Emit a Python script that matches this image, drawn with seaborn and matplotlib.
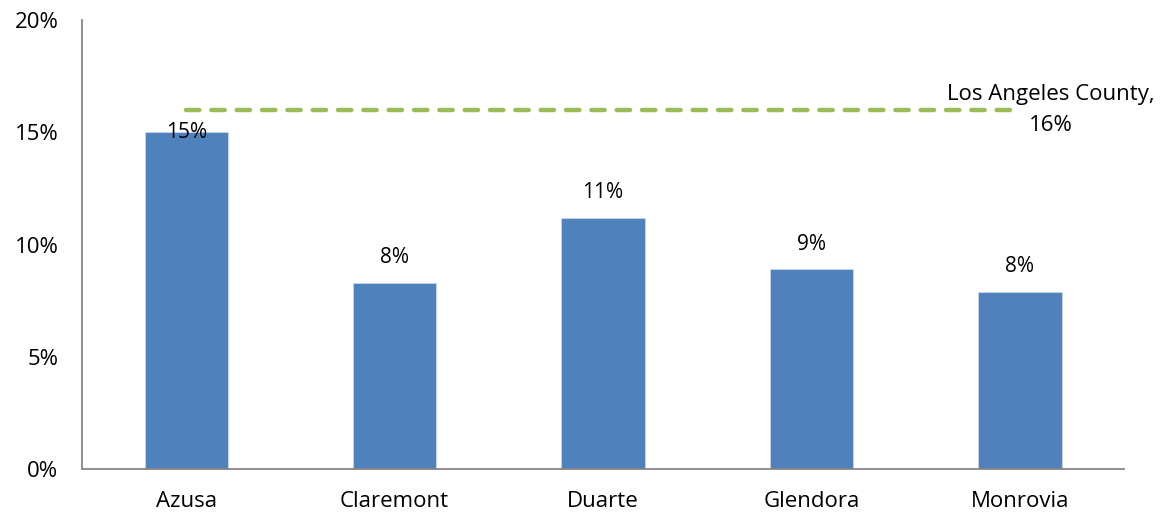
import numpy as np
import pandas as pd
import matplotlib
matplotlib.use("Agg")
import matplotlib.pyplot as plt
import seaborn as sns
from matplotlib.ticker import FuncFormatter

# values (percent)
cities = ["Azusa", "Claremont", "Duarte", "Glendora", "Monrovia"]
shares = [15.0, 8.3, 11.2, 8.9, 7.9]
county_name = "Los Angeles County"
county_share = 16.0

df = pd.DataFrame({"city": cities, "share": shares})

sns.set_theme(style="white")
plt.rcParams["font.family"] = ["Open Sans", "DejaVu Sans"]
plt.rcParams["text.color"] = "black"

fig = plt.figure(figsize=(11.63, 5.19), dpi=100)
ax = fig.add_axes([0.0705, 0.0963, 0.896, 0.8652])

sns.barplot(data=df, x="city", y="share", color="#4F81BD", width=0.4,
            saturation=1, edgecolor="#C9D6EA", linewidth=0.6, ax=ax)

# county benchmark line from first to last bar centre
ax.plot([0, len(cities) - 1], [county_share, county_share], color="#9BBB59",
        lw=3.2, linestyle=(0, (3.0, 2.7)), dash_capstyle="round", zorder=3)
ax.annotate(f"{county_name},\n{county_share:.0f}%", (len(cities) - 1, county_share),
            xytext=(31, 0), textcoords="offset pixels", ha="center", va="center",
            fontsize=16, linespacing=1.6, annotation_clip=False)

# data labels
for i, v in enumerate(shares):
    off = 0 if i == 0 else 25
    ax.annotate(f"{v:.0f}%", (i, v), xytext=(0, off), textcoords="offset pixels",
                ha="center", va="center", fontsize=15)

ax.set_xlim(-0.5, len(cities) - 0.5)
ax.set_ylim(0, 20)
ax.set_yticks([0, 5, 10, 15, 20])
ax.yaxis.set_major_formatter(FuncFormatter(lambda y, _: f"{y:.0f}%"))
ax.set_xlabel("")
ax.set_ylabel("")
ax.tick_params(axis="both", length=0, labelsize=16, colors="black")
ax.tick_params(axis="x", pad=16)
ax.tick_params(axis="y", pad=17)
for s in ["top", "right"]:
    ax.spines[s].set_visible(False)
for s in ["left", "bottom"]:
    ax.spines[s].set_color("#868686")
    ax.spines[s].set_linewidth(1.3)

fig.savefig("out.png", dpi=100)
plt.close()
